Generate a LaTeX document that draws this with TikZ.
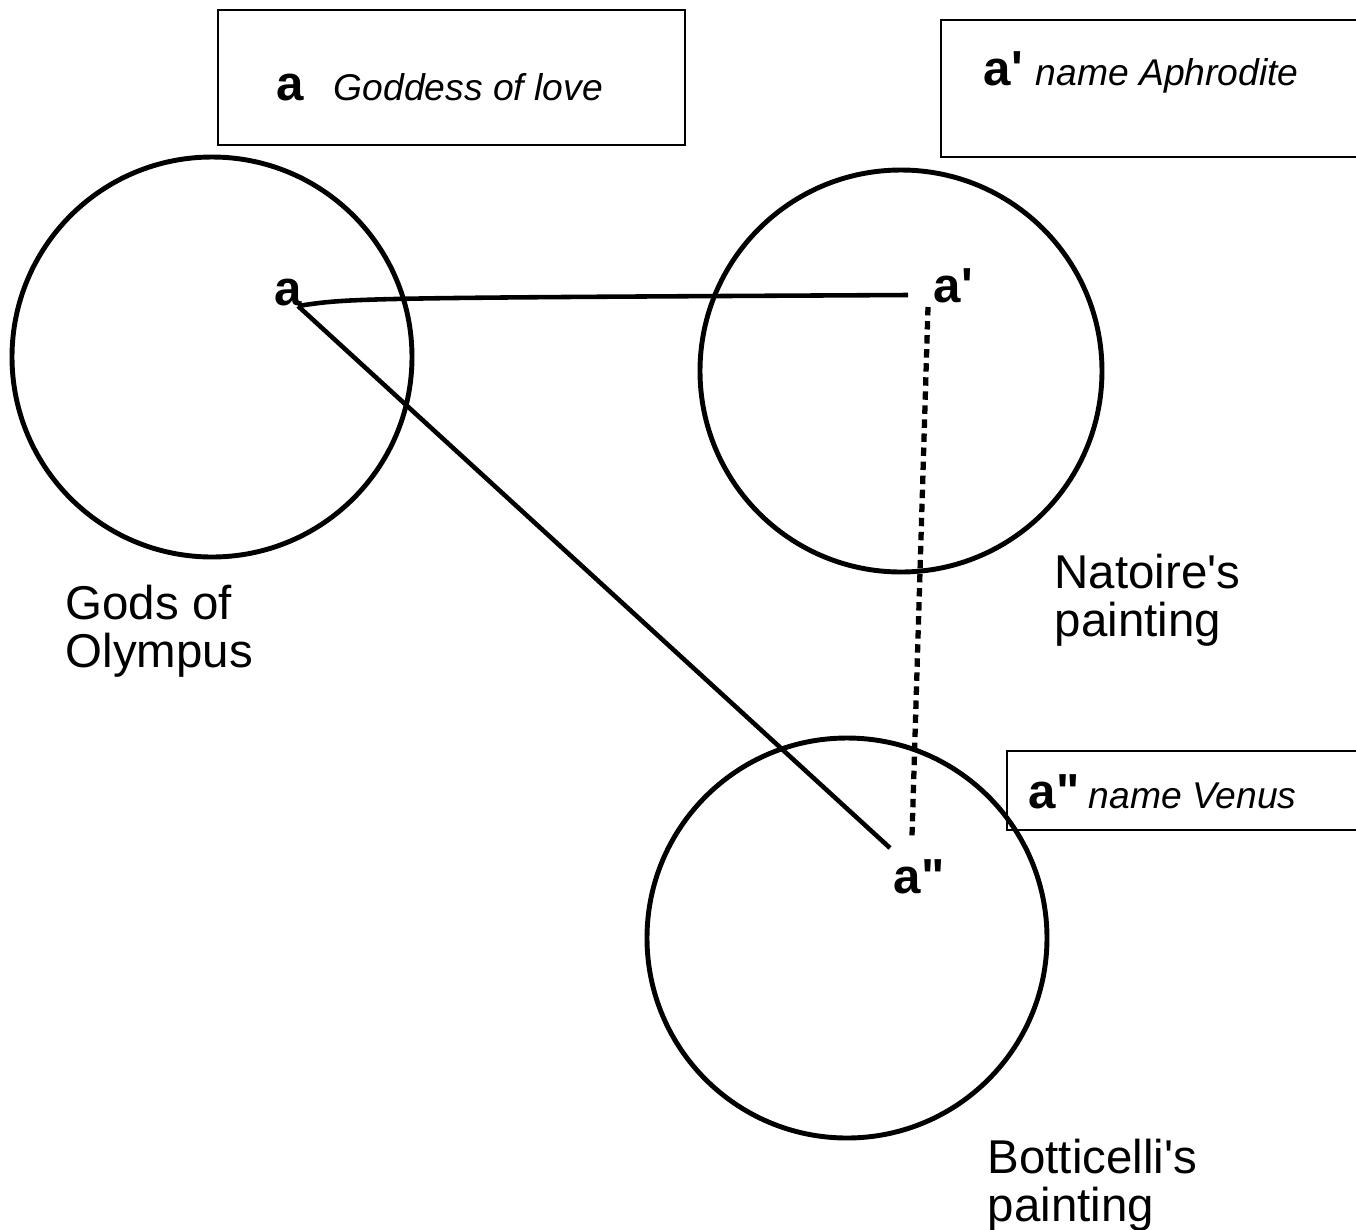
\documentclass[tikz,border=0pt]{standalone}
\usepackage{fontspec}
\newfontfamily\arial{Liberation Sans}
\usetikzlibrary{calc}
\tikzset{ring/.style={draw,circle,line width=1.4pt,minimum size=4cm,inner sep=0pt},
	card/.style={draw,line width=.7pt},
	tag/.style={inner sep=0pt,anchor=base west,font=\arial\fontsize{14}{14}\selectfont\bfseries},
	note/.style={inner sep=0pt,anchor=base west,font=\arial\fontsize{10.6}{12}\selectfont\itshape},
	caption/.style={inner sep=0pt,align=left,anchor=north west,font=\arial\fontsize{13.5}{13.7}\selectfont},
	link/.style={line width=1.3pt},
	dotlink/.style={line width=1.5pt,dash pattern=on 2.4pt off 1.6pt}}
\begin{document}
\begin{tikzpicture}
	\useasboundingbox (0,0) rectangle (13.56,-12.29);
	\clip (0,0) rectangle (13.56,-12.29);
	\draw[card] (2.18,-.10) rectangle (6.85,-1.45);
	\node[tag] (boxa) at (2.76,-1.00) {a};
	\node[note] (love) at (3.33,-1.00) {Goddess of love};
	\draw[card] (9.41,-.20) rectangle (13.65,-1.57);
	\node[tag] (boxa1) at (9.83,-.85) {a'};
	\node[note] (aphrodite) at (10.35,-.85) {name Aphrodite};
	\draw[card] (10.07,-7.51) rectangle (13.65,-8.30);
	\node[tag] (boxa2) at (10.28,-8.08) {a"};
	\node[note] (venus) at (10.88,-8.08) {name Venus};
	\node[ring] (olympus) at (2.12,-3.57) {};
	\node[ring,minimum size=4.02cm] (natoire) at (9.01,-3.71) {};
	\node[ring] (botticelli) at (8.47,-9.38) {};
	\node[caption] (olympuslbl) at (.65,-5.84) {Gods of\\Olympus};
	\node[caption] (natoirelbl) at (10.54,-5.53) {Natoire's\\painting};
	\node[caption] (botticellilbl) at (9.87,-11.38) {Botticelli's\\painting};
	\node[tag] (a) at (2.74,-3.05) {a};
	\node[tag] (a1) at (9.33,-3.02) {a'};
	\node[tag] (a2) at (8.93,-8.93) {a"};
	\coordinate (aend) at (2.98,-3.06);
	\coordinate (a1end) at (9.08,-2.95);
	\coordinate (a2end) at (8.90,-8.48);
	\coordinate (a1top) at (9.28,-3.07);
	\coordinate (a2top) at (9.12,-8.36);
	\draw[link] (aend) .. controls (3.5,-2.98) .. (a1end);
	\draw[link] (aend)--(a2end);
	\draw[dotlink] (a1top)--(a2top);
\end{tikzpicture}
\end{document}
